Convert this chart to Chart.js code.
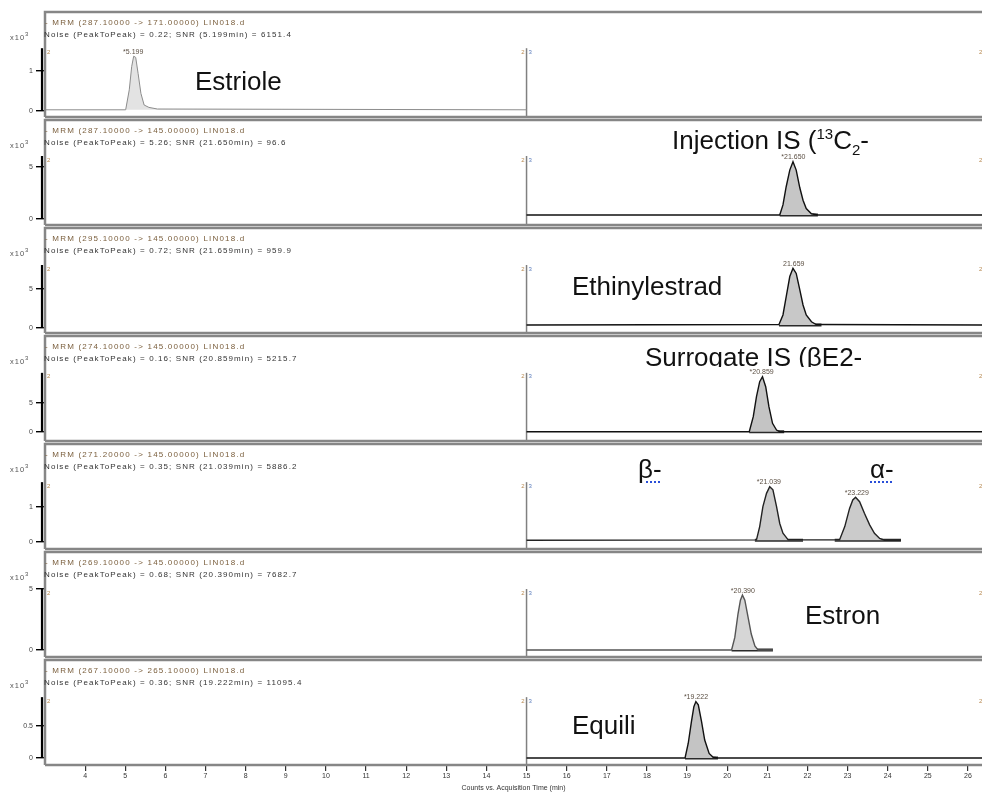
<!DOCTYPE html>
<html lang="en">
<head>
<meta charset="UTF-8">
<title>MRM chromatograms LIN018.d</title>
<script src="https://cdn.jsdelivr.net/npm/chart.js@4.4.0/dist/chart.umd.min.js"></script>
<style>
  body { margin: 0; background: #fff; }
  #page { position: relative; width: 982px; height: 796px; overflow: hidden; font-family: "Liberation Sans", Arial, sans-serif; }
  #page canvas { position: absolute; left: 0; }
  .hdr { position: absolute; left: 45px; font-size: 8px; line-height: 9px; white-space: nowrap; letter-spacing: 1.2px; color: #7a5e3c; z-index: 2; }
  .hdr2 { left: 44px; color: #333; letter-spacing: 1.1px; }
  .mult { position: absolute; left: 10px; font-size: 7.5px; line-height: 9px; color: #555; letter-spacing: 1px; z-index: 2; }
  .mult sup { font-size: 6px; }
  .name { position: absolute; font-size: 26px; line-height: 26px; color: #111; white-space: nowrap; z-index: 3; }
  .name sup, .name sub { font-size: 15px; line-height: 0; }
  .clip { overflow: hidden; height: 23px; }
  .spell { text-decoration: underline dotted #2a4fd8 2px; text-underline-offset: 3px; }
</style>
</head>
<body>
<div id="page">
  <div class="name" style="left:195px;top:68px">Estriole</div>
  <div class="name" style="left:672px;top:127px">Injection IS (<sup>13</sup>C<sub>2</sub>-</div>
  <div class="name" style="left:572px;top:273px">Ethinylestrad</div>
  <div class="name clip" style="left:645px;top:344px">Surrogate IS (βE2-</div>
  <div class="name" style="left:638px;top:456px"><span class="spell">β-</span></div>
  <div class="name" style="left:870px;top:456px"><span class="spell">α-</span></div>
  <div class="name" style="left:805px;top:602px">Estron</div>
  <div class="name" style="left:572px;top:712px">Equili</div>
</div>
<script>
// x axis (min)
const timeTicks = [4, 5, 6, 7, 8, 9, 10, 11, 12, 13, 14, 15, 16, 17, 18, 19, 20, 21, 22, 23, 24, 25, 26];
const segmentBreak = 15;

const mrmLines = [
  '- MRM (287.10000 -> 171.00000) LIN018.d',
  '- MRM (287.10000 -> 145.00000) LIN018.d',
  '- MRM (295.10000 -> 145.00000) LIN018.d',
  '- MRM (274.10000 -> 145.00000) LIN018.d',
  '- MRM (271.20000 -> 145.00000) LIN018.d',
  '- MRM (269.10000 -> 145.00000) LIN018.d',
  '- MRM (267.10000 -> 265.10000) LIN018.d'
];
const noiseLines = [
  'Noise (PeakToPeak) = 0.22; SNR (5.199min) = 6151.4',
  'Noise (PeakToPeak) = 5.26; SNR (21.650min) = 96.6',
  'Noise (PeakToPeak) = 0.72; SNR (21.659min) = 959.9',
  'Noise (PeakToPeak) = 0.16; SNR (20.859min) = 5215.7',
  'Noise (PeakToPeak) = 0.35; SNR (21.039min) = 5886.2',
  'Noise (PeakToPeak) = 0.68; SNR (20.390min) = 7682.7',
  'Noise (PeakToPeak) = 0.36; SNR (19.222min) = 11095.4'
];

// traces, counts in x10^3
const estriolT = [3, 5.01, 5.10, 5.16, 5.21, 5.26, 5.32, 5.39, 5.47, 5.59, 5.80, 15];
const estriolC = [0.03, 0.03, 0.53, 1.11, 1.37, 1.34, 0.94, 0.44, 0.15, 0.09, 0.05, 0.03];

const injT = [15, 21.31, 21.39, 21.47, 21.56, 21.64, 21.72, 21.81, 21.89, 21.97, 22.10, 22.26, 26.4];
const injC = [0.38, 0.38, 1.35, 3.1, 4.7, 5.5, 4.7, 3.0, 1.8, 1.0, 0.5, 0.38, 0.38];

const eeT = [15, 21.29, 21.39, 21.47, 21.56, 21.64, 21.72, 21.81, 21.89, 21.97, 22.10, 22.22, 26.4];
const eeC = [0.38, 0.45, 1.67, 4.0, 6.6, 7.65, 7.0, 4.9, 2.95, 1.67, 0.8, 0.45, 0.38];

const surT = [15, 20.55, 20.65, 20.73, 20.81, 20.88, 20.96, 21.04, 21.13, 21.23, 21.31, 26.4];
const surC = [0.05, 0.05, 2.64, 6.1, 8.67, 9.53, 7.8, 4.36, 1.5, 0.34, 0.05, 0.05];

const e2T = [15, 20.73, 20.81, 20.89, 20.98, 21.06, 21.14, 21.23, 21.31, 21.39, 21.52,
             22.80, 22.93, 23.05, 23.13, 23.20, 23.30, 23.42, 23.55, 23.67, 23.80, 23.92, 24.33];
const e2C = [0.05, 0.06, 0.44, 1.01, 1.39, 1.58, 1.49, 1.01, 0.53, 0.25, 0.06,
             0.06, 0.44, 0.96, 1.2, 1.28, 1.15, 0.82, 0.49, 0.25, 0.1, 0.05, 0.05];

const e1T = [15, 20.11, 20.19, 20.27, 20.33, 20.38, 20.44, 20.52, 20.60, 20.69, 20.77, 21.14];
const e1C = [0, 0, 1.03, 2.97, 4.08, 4.5, 4.08, 2.69, 1.31, 0.33, 0, 0];

const eqT = [15, 18.95, 19.03, 19.11, 19.17, 19.22, 19.28, 19.36, 19.44, 19.55, 19.65, 19.77, 26.4];
const eqC = [0, 0, 0.23, 0.57, 0.8, 0.88, 0.83, 0.57, 0.28, 0.07, 0.01, 0, 0];

const baselines = [0.03, 0.38, 0.38, 0.05, 0.05, 0, 0];

// integration baselines (start, end)
const integrations = [
  [],
  [[21.31, 22.26]],
  [[21.29, 22.35]],
  [[20.55, 21.42]],
  [[20.69, 21.89], [22.68, 24.33]],
  [[20.11, 21.14]],
  [[18.95, 19.77]]
];

const peakLabels = [
  [[5.199, '*5.199']],
  [[21.650, '*21.650']],
  [[21.659, '21.659']],
  [[20.859, '*20.859']],
  [[21.039, '*21.039'], [23.229, '*23.229']],
  [[20.390, '*20.390']],
  [[19.222, '*19.222']]
];

const yTicks = [[0, 1], [0, 5], [0, 5], [0, 5], [0, 1], [0, 5], [0, 0.5]];

const traces = [[estriolT, estriolC], [injT, injC], [eeT, eeC], [surT, surC], [e2T, e2C], [e1T, e1C], [eqT, eqC]];

// layout
const panelTops = [12, 120, 228, 336, 444, 552, 660];
const frameH = 105;
const yMin = [-0.15, -0.58, -0.64, -1.55, -0.2, -0.57, -0.11];
const yMax = [2.475, 9.52, 12.82, 16.55, 2.8, 8.03, 1.53];
const axisTop = [1.57, 6.06, 8.08, 10.2, 1.71, 5.0, 0.95];
const lineColors = ['#8c8c8c', '#111', '#111', '#111', '#222', '#555', '#111'];
const fillColors = ['#e3e3e3', '#c6c6c6', '#c8c8c8', '#c4c4c4', '#cbcbcb', '#d6d6d6', '#c4c4c4'];

Chart.defaults.font.family = '"Liberation Sans", Arial, sans-serif';

const chromPlugin = {
  id: 'chrom',
  beforeDatasetsDraw(chart, args, o) {
    const {ctx, chartArea: a, scales: {x, y}} = chart;
    const xs = x.getPixelForValue(segmentBreak);
    ctx.save();
    ctx.strokeStyle = '#808080';
    ctx.lineWidth = 1.5;
    ctx.beginPath();
    ctx.moveTo(xs, y.getPixelForValue(o.top));
    ctx.lineTo(xs, a.bottom);
    ctx.stroke();
    ctx.restore();
  },
  afterDraw(chart, args, o) {
    const {ctx, chartArea: a, scales: {x, y}} = chart;
    ctx.save();
    // panel frame
    ctx.strokeStyle = '#868686';
    ctx.lineWidth = 2.5;
    ctx.beginPath();
    ctx.moveTo(a.left, a.bottom);
    ctx.lineTo(a.left, a.top);
    ctx.lineTo(a.right, a.top);
    ctx.moveTo(a.left, a.bottom);
    ctx.lineTo(a.right, a.bottom);
    ctx.stroke();
    // y axis line
    const yt = y.getPixelForValue(o.top);
    ctx.strokeStyle = '#000';
    ctx.lineWidth = 2.2;
    ctx.beginPath();
    ctx.moveTo(a.left - 3, yt);
    ctx.lineTo(a.left - 3, y.getPixelForValue(0));
    ctx.stroke();
    // segment numbers
    ctx.font = '6px "Liberation Sans", Arial, sans-serif';
    ctx.textBaseline = 'middle';
    const xs = x.getPixelForValue(segmentBreak);
    ctx.fillStyle = '#b88a52';
    ctx.textAlign = 'left';
    ctx.fillText('2', a.left + 2, yt + 4);
    ctx.fillText('2', a.right - 3, yt + 4);
    ctx.textAlign = 'right';
    ctx.fillText('2', xs - 2, yt + 4);
    ctx.fillStyle = '#5a7cbc';
    ctx.textAlign = 'left';
    ctx.fillText('3', xs + 2, yt + 4);
    // peak labels
    ctx.font = '7px "Liberation Sans", Arial, sans-serif';
    ctx.fillStyle = '#5c5044';
    ctx.textAlign = 'center';
    ctx.textBaseline = 'bottom';
    const [tt, cc] = o.trace;
    o.labels.forEach(([t, txt]) => {
      let top = 0;
      tt.forEach((v, k) => { if (Math.abs(v - t) < 0.25 && cc[k] > top) top = cc[k]; });
      ctx.fillText(txt, x.getPixelForValue(t), y.getPixelForValue(top) - 1);
    });
    ctx.restore();
  }
};

const page = document.getElementById('page');

traces.forEach(([tt, cc], i) => {
  const last = i === traces.length - 1;
  const top = panelTops[i];

  const hdr = document.createElement('div');
  hdr.className = 'hdr';
  hdr.style.top = (top + 6) + 'px';
  hdr.textContent = mrmLines[i];
  page.appendChild(hdr);
  const hdr2 = document.createElement('div');
  hdr2.className = 'hdr hdr2';
  hdr2.style.top = (top + 18) + 'px';
  hdr2.textContent = noiseLines[i];
  page.appendChild(hdr2);
  const mult = document.createElement('div');
  mult.className = 'mult';
  mult.style.top = (top + 18) + 'px';
  mult.innerHTML = 'x10<sup>3</sup>';
  page.appendChild(mult);

  const cv = document.createElement('canvas');
  cv.width = 982;
  cv.height = last ? 796 - (top - 3) : frameH + 6;
  cv.style.top = (top - 3) + 'px';
  page.insertBefore(cv, page.firstChild);

  const datasets = [{
    data: tt.map((v, k) => ({x: v, y: cc[k]})),
    borderColor: lineColors[i],
    backgroundColor: fillColors[i],
    borderWidth: i === 0 ? 1 : 1.4,
    fill: {value: baselines[i]},
    pointRadius: 0,
    tension: 0
  }];
  integrations[i].forEach(([s, e]) => {
    datasets.push({
      data: [{x: s, y: baselines[i]}, {x: e, y: baselines[i]}],
      borderColor: '#2a2a2a',
      borderWidth: 3,
      fill: false,
      pointRadius: 0
    });
  });

  new Chart(cv, {
    type: 'line',
    data: {datasets},
    options: {
      responsive: false,
      animation: false,
      events: [],
      layout: {padding: {top: 3, bottom: last ? 0 : 3, left: 0, right: 0}},
      plugins: {
        legend: {display: false},
        tooltip: {enabled: false},
        chrom: {top: axisTop[i], labels: peakLabels[i], trace: traces[i]}
      },
      scales: {
        x: {
          type: 'linear',
          min: 3,
          max: 26.35,
          display: last,
          afterFit: s => {
            if (last) s.height = 31;
            s.paddingLeft = 0;
            s.paddingRight = 0;
          },
          afterBuildTicks: s => { s.ticks = timeTicks.map(v => ({value: v})); },
          grid: {drawOnChartArea: false, tickLength: 6, color: '#333', lineWidth: 1.2},
          border: {display: false},
          ticks: {font: {size: 7}, color: '#333', padding: 1, maxRotation: 0, autoSkip: false},
          title: {display: true, text: 'Counts vs. Acquisition Time (min)', font: {size: 7}, color: '#333', padding: {top: 0, bottom: 4}}
        },
        y: {
          min: yMin[i],
          max: yMax[i],
          afterFit: s => {
            s.width = 45;
            s.paddingTop = 0;
            s.paddingBottom = 0;
          },
          afterBuildTicks: s => { s.ticks = yTicks[i].map(v => ({value: v})); },
          grid: {drawOnChartArea: false, tickLength: 9, color: '#000', lineWidth: 1.4},
          border: {display: false},
          ticks: {font: {size: 7}, color: '#444', padding: 3}
        }
      }
    },
    plugins: [chromPlugin]
  });
});
</script>
</body>
</html>
